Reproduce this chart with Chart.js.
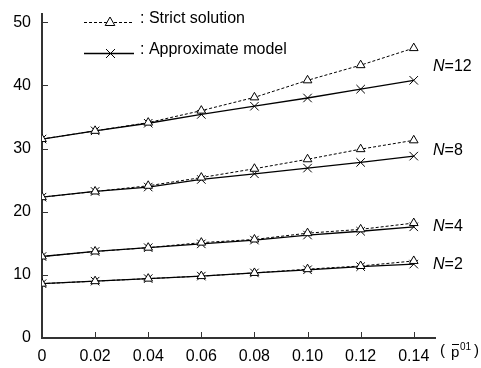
<!DOCTYPE html>
<html>
<head>
<meta charset="utf-8">
<script src="https://cdn.jsdelivr.net/npm/chart.js@4.4.1/dist/chart.umd.min.js"></script>
<style>
  html, body { margin: 0; padding: 0; background: #fff; }
  #wrap { width: 481px; height: 368px; }
</style>
</head>
<body>
<div id="wrap"><canvas id="chart" width="481" height="368"></canvas></div>
<script>
// x values (p01) and tick labels
const xValues = [0, 0.02, 0.04, 0.06, 0.08, 0.10, 0.12, 0.14];
const xTickLabels = ['0', '0.02', '0.04', '0.06', '0.08', '0.10', '0.12', '0.14'];
const yTicks = [0, 10, 20, 30, 40, 50];

// series
const groups = ['N=12', 'N=8', 'N=4', 'N=2'];
const strict12 = [31.5, 32.8, 34.1, 36.0, 38.1, 40.8, 43.2, 45.9];
const approx12 = [31.5, 32.8, 34.0, 35.4, 36.7, 38.0, 39.4, 40.8];
const strict8  = [22.3, 23.2, 24.1, 25.4, 26.8, 28.3, 29.9, 31.3];
const approx8  = [22.3, 23.2, 23.9, 25.1, 26.0, 26.9, 27.8, 28.8];
const strict4  = [12.9, 13.7, 14.3, 15.1, 15.6, 16.6, 17.2, 18.2];
const approx4  = [12.9, 13.7, 14.3, 14.9, 15.5, 16.3, 16.9, 17.6];
const strict2  = [8.6, 9.0, 9.4, 9.8, 10.3, 10.9, 11.4, 12.2];
const approx2  = [8.6, 9.0, 9.4, 9.8, 10.3, 10.8, 11.3, 11.7];

const strictSets = [strict12, strict8, strict4, strict2];
const approxSets = [approx12, approx8, approx4, approx2];

const FONT = '"Liberation Sans", Arial, sans-serif';
const AXIS = '#333';

function toPoints(arr) {
  return arr.map((v, i) => ({ x: xValues[i], y: v }));
}

const datasets = [];
groups.forEach((g, i) => {
  datasets.push({
    label: 'Strict solution ' + g,
    data: toPoints(strictSets[i]),
    borderColor: '#000',
    borderWidth: 1,
    borderDash: [3, 2],
    pointStyle: 'triangle',
    pointRadius: 5,
    pointBorderWidth: 1,
    pointBorderColor: '#000',
    pointBackgroundColor: '#fff',
    fill: false
  });
  datasets.push({
    label: 'Approximate model ' + g,
    data: toPoints(approxSets[i]),
    borderColor: '#000',
    borderWidth: 1.3,
    pointStyle: 'crossRot',
    pointRadius: 6,
    pointBorderWidth: 1,
    pointBorderColor: '#000',
    fill: false
  });
});

// inner ticks, legend, N labels and axis title
const decor = {
  id: 'decor',
  afterDraw(chart) {
    const ctx = chart.ctx;
    const xs = chart.scales.x, ys = chart.scales.y;
    const area = chart.chartArea;
    ctx.save();
    ctx.setLineDash([]);
    ctx.strokeStyle = '#333';
    ctx.lineWidth = 1;
    for (let i = 1; i < xValues.length; i++) {
      const px = Math.round(xs.getPixelForValue(xValues[i])) + 0.5;
      ctx.beginPath();
      ctx.moveTo(px, area.bottom);
      ctx.lineTo(px, area.bottom - 6);
      ctx.stroke();
    }
    for (let i = 1; i < yTicks.length; i++) {
      const py = Math.round(ys.getPixelForValue(yTicks[i])) + 0.5;
      ctx.beginPath();
      ctx.moveTo(area.left, py);
      ctx.lineTo(area.left + 6, py);
      ctx.stroke();
    }

    // legend
    ctx.strokeStyle = '#000';
    ctx.lineWidth = 1;
    ctx.setLineDash([3, 2]);
    ctx.beginPath(); ctx.moveTo(84, 22.5); ctx.lineTo(134, 22.5); ctx.stroke();
    ctx.setLineDash([]);
    ctx.beginPath();
    ctx.moveTo(110, 17); ctx.lineTo(105.2, 25.5); ctx.lineTo(114.8, 25.5); ctx.closePath();
    ctx.fillStyle = '#fff'; ctx.fill(); ctx.stroke();
    ctx.lineWidth = 1.3;
    ctx.beginPath(); ctx.moveTo(84, 53.5); ctx.lineTo(134, 53.5); ctx.stroke();
    ctx.lineWidth = 1;
    ctx.beginPath();
    ctx.moveTo(106, 49); ctx.lineTo(115, 58);
    ctx.moveTo(115, 49); ctx.lineTo(106, 58);
    ctx.stroke();

    ctx.fillStyle = '#000';
    ctx.font = '16px ' + FONT;
    ctx.textAlign = 'left';
    ctx.textBaseline = 'middle';
    ctx.fillText(': Strict solution', 140, 19);
    ctx.fillText(': Approximate model', 140, 50);

    // N labels
    groups.forEach((g, i) => {
      const last = xValues.length - 1;
      const yMid = (ys.getPixelForValue(strictSets[i][last]) + ys.getPixelForValue(approxSets[i][last])) / 2 + 2;
      const parts = g.split('=');
      ctx.font = 'italic 16px ' + FONT;
      ctx.fillText(parts[0], 433, yMid);
      const w = ctx.measureText(parts[0]).width;
      ctx.font = '16px ' + FONT;
      ctx.fillText('=' + parts[1], 433 + w, yMid);
    });

    // axis title ( p̄01 )
    ctx.font = '15px ' + FONT;
    ctx.fillText('(', 440, 351);
    ctx.fillText('p', 451, 353);
    ctx.beginPath(); ctx.moveTo(452, 344.5); ctx.lineTo(459, 344.5); ctx.lineWidth = 1; ctx.stroke();
    ctx.font = '10px ' + FONT;
    ctx.fillText('01', 460, 347);
    ctx.font = '15px ' + FONT;
    ctx.fillText(')', 474, 351);
    ctx.restore();
  }
};

new Chart(document.getElementById('chart'), {
  type: 'line',
  data: { datasets: datasets },
  options: {
    responsive: false,
    animation: false,
    layout: { padding: { left: 0, right: 46, top: 14, bottom: 0 } },
    plugins: { legend: { display: false }, tooltip: { enabled: false } },
    scales: {
      x: {
        type: 'linear',
        min: 0,
        max: 0.148,
        afterBuildTicks: s => { s.ticks = xValues.map(v => ({ value: v })); },
        afterFit: s => { s.height = 30; s.paddingLeft = 0; s.paddingRight = 0; },
        grid: { display: false, drawTicks: false },
        border: { display: true, color: AXIS, width: 2 },
        ticks: {
          padding: 9,
          color: '#000',
          font: { family: FONT, size: 16 },
          maxRotation: 0,
          autoSkip: false,
          callback: (v, i) => xTickLabels[i]
        }
      },
      y: {
        min: 0,
        max: 51.3,
        afterBuildTicks: s => { s.ticks = yTicks.map(v => ({ value: v })); },
        afterFit: s => { s.width = 42; s.paddingTop = 0; s.paddingBottom = 0; },
        grid: { display: false, drawTicks: false },
        border: { display: true, color: AXIS, width: 2 },
        ticks: {
          padding: 11,
          color: '#000',
          font: { family: FONT, size: 16 },
          callback: v => String(v)
        }
      }
    }
  },
  plugins: [decor]
});
</script>
</body>
</html>
